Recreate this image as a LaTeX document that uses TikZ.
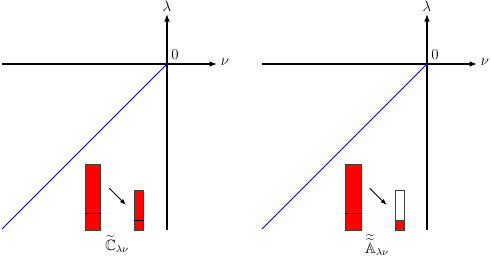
\documentclass[tikz,border=0pt]{standalone}
\usepackage{amsmath,amssymb}
\usepackage{tikz}
\usetikzlibrary{arrows.meta,positioning}

\begin{document}
\begin{tikzpicture}[x=0.8pt,y=-0.8pt,
  font=\fontsize{12}{14}\selectfont,
  axis/.style={-{Latex[length=6pt,width=4.5pt]},line width=1pt},
  diag/.style={blue,line width=0.7pt},
  bar/.style={draw=black!75,fill=red,line width=0.8pt},
  emptybar/.style={draw=black!75,fill=white,line width=0.8pt},
  split/.style={black,line width=0.8pt},
  arr/.style={-{Latex[length=5pt,width=3.5pt]},line width=0.7pt},
  lab/.style={inner sep=1pt}]
\useasboundingbox (0,0) rectangle (491,259);
% ---------- left panel ----------
\coordinate (oL) at (167,64);
\coordinate (xlL) at (2,64);
\coordinate (xrL) at (217,64);
\coordinate (ybL) at (167,230);
\coordinate (ytL) at (167,14);
\coordinate (dgL) at (2,229);
\draw[axis] (xlL) -- (xrL);
\draw[axis] (ybL) -- (ytL);
\draw[diag] (oL) -- (dgL);
\node[lab] (nuL) at (225,62) {$\nu$};
\node[lab] (lamL) at (167,6) {$\lambda$};
\node[lab] (zeroL) at (175,55) {$0$};
\draw[bar] (85,164) rectangle (100.7,230);
\draw[split] (85,213.3) -- (100.7,213.3);
\draw[bar] (134.3,190.7) rectangle (143.7,230);
\draw[split] (134.3,220.3) -- (143.7,220.3);
\coordinate (aL1) at (109.3,188.3);
\coordinate (aL2) at (126,205);
\draw[arr] (aL1) -- (aL2);
\node[lab] (labC) at (117,244) {$\widetilde{\mathbb{C}}_{\lambda\nu}$};
% ---------- right panel ----------
\coordinate (oR) at (427,64);
\coordinate (xlR) at (262,64);
\coordinate (xrR) at (477,64);
\coordinate (ybR) at (427,230);
\coordinate (ytR) at (427,14);
\coordinate (dgR) at (262,229);
\draw[axis] (xlR) -- (xrR);
\draw[axis] (ybR) -- (ytR);
\draw[diag] (oR) -- (dgR);
\node[lab] (nuR) at (485,62) {$\nu$};
\node[lab] (lamR) at (427,6) {$\lambda$};
\node[lab] (zeroR) at (435,55) {$0$};
\draw[bar] (345.3,164) rectangle (361,230);
\draw[split] (345.3,213.3) -- (361,213.3);
\draw[emptybar] (395,190.7) rectangle (404,230);
\draw[bar] (395,220.3) rectangle (404,230);
\coordinate (aR1) at (369.7,188.3);
\coordinate (aR2) at (386.7,205);
\draw[arr] (aR1) -- (aR2);
\node[lab] (labA) at (377,245) {$\widetilde{\widetilde{\mathbb{A}}}_{\lambda\nu}$};
\end{tikzpicture}
\end{document}
